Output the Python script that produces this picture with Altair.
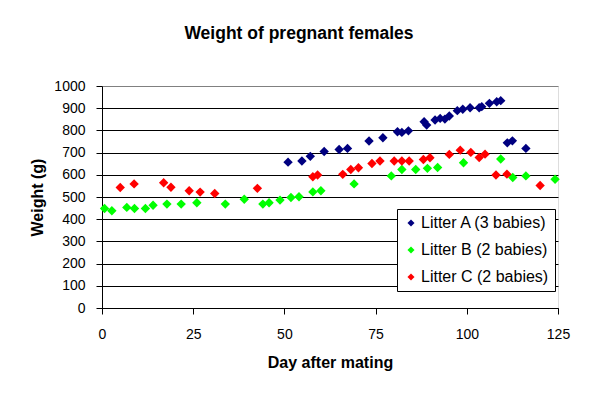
import altair as alt
import pandas as pd

series = ["Litter A (3 babies)", "Litter B (2 babies)", "Litter C (2 babies)"]
colors = ["#000080", "#00FF00", "#FF0000"]

a_day = [51, 54.8, 57.1, 60.9, 65, 67.3, 73.2, 77, 81, 82.2, 84, 88.3, 89, 91.3,
         92.7, 94, 95.2, 97.4, 98.9, 100.9, 103.4, 104.1, 106.2, 108.2, 109.3,
         111.1, 112.5, 116.2]
a_weight = [657, 662, 683, 705, 714, 719, 752, 767, 794, 791, 798, 839, 824, 847,
            854, 851, 865, 889, 895, 902, 902, 907, 922, 929, 934,
            744, 753, 719]

b_day = [0.7, 2.7, 6.8, 8.9, 11.9, 14, 17.8, 21.7, 26, 33.8, 39, 44.1, 45.8, 48.8,
         51.8, 54, 57.8, 60, 69.1, 79.3, 82.2, 86, 89.2, 92, 99.1, 109.3, 112.6,
         116.2, 124.2]
b_weight = [448, 438, 453, 448, 448, 463, 468, 468, 474, 468, 490, 468, 474, 486,
            498, 501, 523, 528, 559, 595, 624, 624, 629, 633, 654, 671, 588,
            595, 580]

c_day = [5, 8.8, 16.9, 18.9, 23.9, 26.9, 30.9, 42.6, 57.8, 59.1, 66, 68.2, 70.3,
         74, 76.2, 80.1, 82.2, 84.2, 88.1, 89.9, 95.2, 98.2, 101.1, 103.4, 105,
         108, 111, 120.1]
c_weight = [543, 559, 564, 544, 528, 522, 516, 539, 591, 599, 602, 624, 632,
            651, 662, 662, 662, 662, 669, 677, 692, 711, 701, 678, 693,
            599, 603, 552]

x_ticks = [0, 25, 50, 75, 100, 125]
y_ticks = [0, 100, 200, 300, 400, 500, 600, 700, 800, 900, 1000]

rows = []
for name, days, ws in zip(series, [a_day, b_day, c_day], [a_weight, b_weight, c_weight]):
    for d, w in zip(days, ws):
        rows.append({"Litter": name, "day": d, "weight": w})
df = pd.DataFrame(rows)

FONT = "Liberation Sans"
common = dict(
    domainColor="#000000", domainWidth=1, tickColor="#000000", tickWidth=1,
    labelFont=FONT, labelFontSize=14, labelColor="#000000",
    titleFont=FONT, titleFontSize=16, titleFontWeight="bold", titleColor="#000000",
    labelFlush=False, labelOverlap=False, tickSize=6, format="d",
)

chart = alt.Chart(df).mark_point(
    shape="diamond", filled=True, size=88, opacity=1, strokeWidth=0
).encode(
    x=alt.X(
        "day:Q",
        scale=alt.Scale(domain=[0, 125], nice=False, zero=False),
        axis=alt.Axis(
            values=x_ticks, title="Day after mating", grid=False, labelPadding=13,
            titleX=228, titleY=54, titleBaseline="middle", titleAlign="center",
            **common,
        ),
    ),
    y=alt.Y(
        "weight:Q",
        scale=alt.Scale(domain=[0, 1000], nice=False),
        axis=alt.Axis(
            values=y_ticks, title="Weight (g)", grid=True,
            gridColor=alt.condition("datum.value == 1000", alt.value("#808080"), alt.value("#000000")),
            gridWidth=1, gridOpacity=1, labelPadding=11,
            titleX=-65, titleY=111, titleBaseline="middle", titleAlign="center",
            titleAngle=270,
            **common,
        ),
    ),
    color=alt.Color(
        "Litter:N",
        scale=alt.Scale(domain=series, range=colors),
        title=None,
        legend=alt.Legend(
            orient="none", legendX=295, legendY=123,
            strokeColor="#000000", fillColor="#ffffff", padding=6,
            labelFontSize=16, labelFont=FONT, labelColor="#000000",
            symbolType="diamond", symbolSize=50, symbolStrokeWidth=0,
            rowPadding=11, labelOffset=2,
        ),
    ),
).properties(
    width=456,
    height=222,
    autosize=alt.AutoSizeParams(type="none"),
    padding={"left": 94, "top": 78, "right": 26, "bottom": 80},
    title=alt.Title(
        "Weight of pregnant females", anchor="middle", frame="group", dx=-31,
        fontSize=17.5, fontWeight="bold", font=FONT, color="#000000", offset=37,
    ),
).configure_view(
    stroke="#808080", strokeWidth=1,
).configure(background="#ffffff")

chart.save("out.html", embed_options={"renderer": "svg", "actions": False})
